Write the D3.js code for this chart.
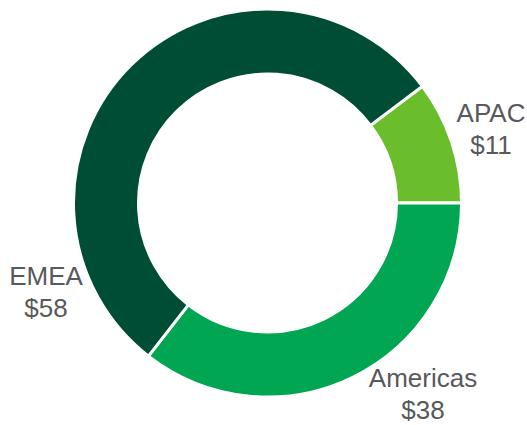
<!DOCTYPE html>
<html>
<head>
<meta charset="utf-8">
<script src="https://cdn.jsdelivr.net/npm/d3@7"></script>
<style>
  body { margin: 0; background: #fff; }
  svg { display: block; }
</style>
</head>
<body>
<div id="chart"></div>
<script>
// data
const regions = ["APAC", "Americas", "EMEA"];
const revenue = [11, 38, 58];
const colors = ["#6abd2b", "#00a651", "#004d36"];

// layout
const width = 527, height = 425;
const cx = 267.5, cy = 203;
const outerR = 194, innerR = 129;
const startAngle = 53 * Math.PI / 180;
// label anchors (centre x, baseline of first line)
const labelPos = {
  "APAC": [491, 122],
  "Americas": [423, 387],
  "EMEA": [46, 285]
};

const svg = d3.select("#chart")
  .append("svg")
    .attr("width", width)
    .attr("height", height);

const g = svg.append("g")
  .attr("transform", `translate(${cx},${cy})`);

const pie = d3.pie()
  .sort(null)
  .value(d => d.value)
  .startAngle(startAngle)
  .endAngle(startAngle + 2 * Math.PI);

const arc = d3.arc()
  .innerRadius(innerR)
  .outerRadius(outerR);

const data = regions.map((r, i) => ({ region: r, value: revenue[i], color: colors[i] }));

g.selectAll("path")
  .data(pie(data))
  .enter()
  .append("path")
    .attr("d", arc)
    .attr("fill", d => d.data.color)
    .attr("stroke", "#fff")
    .attr("stroke-width", 3);

// labels
const labels = svg.selectAll(".label")
  .data(data)
  .enter()
  .append("text")
    .attr("class", "label")
    .attr("x", d => labelPos[d.region][0])
    .attr("y", d => labelPos[d.region][1])
    .attr("text-anchor", "middle")
    .style("font-family", "'Liberation Sans', Arial, sans-serif")
    .style("font-size", "26px")
    .style("fill", "#58595b");

labels.append("tspan")
  .attr("x", d => labelPos[d.region][0])
  .text(d => d.region);

labels.append("tspan")
  .attr("x", d => labelPos[d.region][0])
  .attr("dy", 32)
  .text(d => "$" + d.value);
</script>
</body>
</html>
